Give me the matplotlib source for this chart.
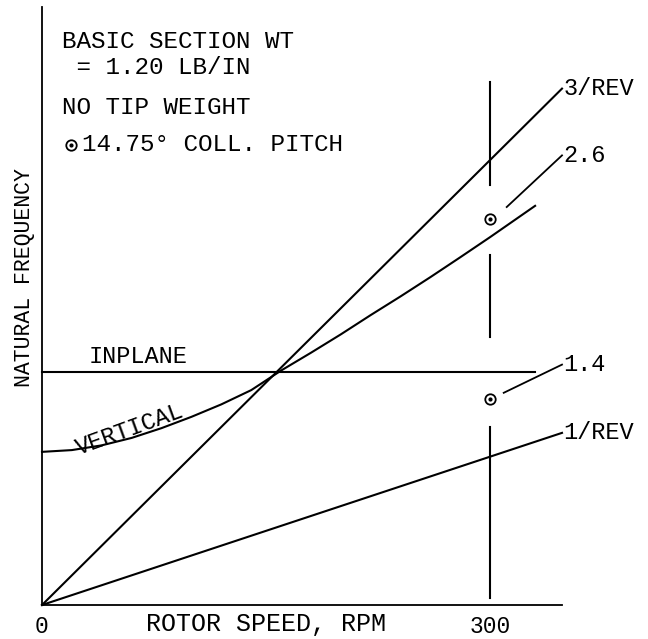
import matplotlib
matplotlib.use('Agg')
import matplotlib.pyplot as plt

# rotor speed (RPM) vs natural frequency (Hz, 3/REV = 15 Hz at 300 RPM)
rpm_rev = [0, 348]
rev_orders = [3, 1]
rev_labels = ['3/REV', '1/REV']

rpm_vert = [0, 20, 40, 60, 80, 100, 120, 140, 160, 180, 200, 220, 240, 260, 280, 300, 330]
freq_vert = [5.16, 5.22, 5.38, 5.63, 5.96, 6.34, 6.76, 7.24, 7.90, 8.50, 9.12, 9.77,
             10.40, 11.05, 11.72, 12.40, 13.45]

rpm_inplane = [0, 330]
freq_inplane = [7.85, 7.85]

# measured points at 14.75 deg collective pitch
rpm_test = [300, 300]
freq_test = [13.0, 6.95]
test_labels = ['2.6', '1.4']
leader_start = [(311, 13.41), (309, 7.15)]
leader_end = [(348, 15.15), (348, 8.10)]

# operating speed line (broken where the labels sit)
rpm_oper = 300
oper_segments = [(17.63, 14.16), (11.80, 9.03), (6.00, 0.24)]

xmax, ymax = 348, 20.15
font = ['Liberation Mono', 'DejaVu Sans']
lw = 1.5

fig = plt.figure(figsize=(6.48, 6.39), dpi=100)
ax = fig.add_axes([42/648, 34/639, 520/648, 598/639])

for n, lab in zip(rev_orders, rev_labels):
    f = [r * n / 60 for r in rpm_rev]
    ax.plot(rpm_rev, f, color='black', lw=lw, clip_on=False)
    ax.text(rpm_rev[-1] + 1, f[-1], lab, ha='left', va='center',
            family=font, fontsize=17)

ax.plot(rpm_vert, freq_vert, color='black', lw=lw, clip_on=False)
ax.plot(rpm_inplane, freq_inplane, color='black', lw=lw, clip_on=False)

for y0, y1 in oper_segments:
    ax.plot([rpm_oper, rpm_oper], [y0, y1], color='black', lw=lw)

ax.plot(rpm_test, freq_test, 'o', ms=7.5, mfc='white', mec='black', mew=1.3, ls='none')
ax.plot(rpm_test, freq_test, 'o', ms=2, color='black', ls='none')
for (x0, y0), (x1, y1), lab in zip(leader_start, leader_end, test_labels):
    ax.plot([x0, x1], [y0, y1], color='black', lw=1.3, clip_on=False)
    ax.text(x1 + 1, y1, lab, ha='left', va='center', family=font, fontsize=17)

ax.text(64, 8.36, 'INPLANE', ha='center', va='center', family=font, fontsize=17)
ax.text(60, 5.72, 'VERTICAL', ha='center', va='baseline', rotation=20,
        rotation_mode='anchor', family=font, fontsize=17)

# notes block
ax.text(13.4, 18.98, 'BASIC SECTION WT', ha='left', va='center', family=font, fontsize=17.5)
ax.text(13.4, 18.10, ' = 1.20 LB/IN', ha='left', va='center', family=font, fontsize=17.5)
ax.text(13.4, 16.75, 'NO TIP WEIGHT', ha='left', va='center', family=font, fontsize=17.5)
ax.plot([19.4], [15.5], 'o', ms=7.5, mfc='white', mec='black', mew=1.3)
ax.plot([19.4], [15.5], 'o', ms=2, color='black')
ax.text(26.8, 15.5, '14.75° COLL. PITCH', ha='left', va='center', family=font, fontsize=17.5)

ax.set_xlim(0, xmax)
ax.set_ylim(0, ymax)
for s in ['top', 'right']:
    ax.spines[s].set_visible(False)
for s in ['left', 'bottom']:
    ax.spines[s].set_linewidth(1.3)

ax.set_xticks([0, 300])
ax.set_xticklabels(['0', '300'], family=font, fontsize=16.5)
ax.tick_params(axis='x', length=0, pad=7)
ax.set_yticks([])

ax.set_xlabel('ROTOR SPEED, RPM', family=font, fontsize=18)
ax.xaxis.set_label_coords(224/520, -19/598)
ax.xaxis.label.set_va('center')

fig.text(25/648, 1 - 278/639, 'NATURAL FREQUENCY', rotation=90, ha='center', va='center',
         family=font, fontsize=15.5)

fig.savefig('out.png', dpi=100)
